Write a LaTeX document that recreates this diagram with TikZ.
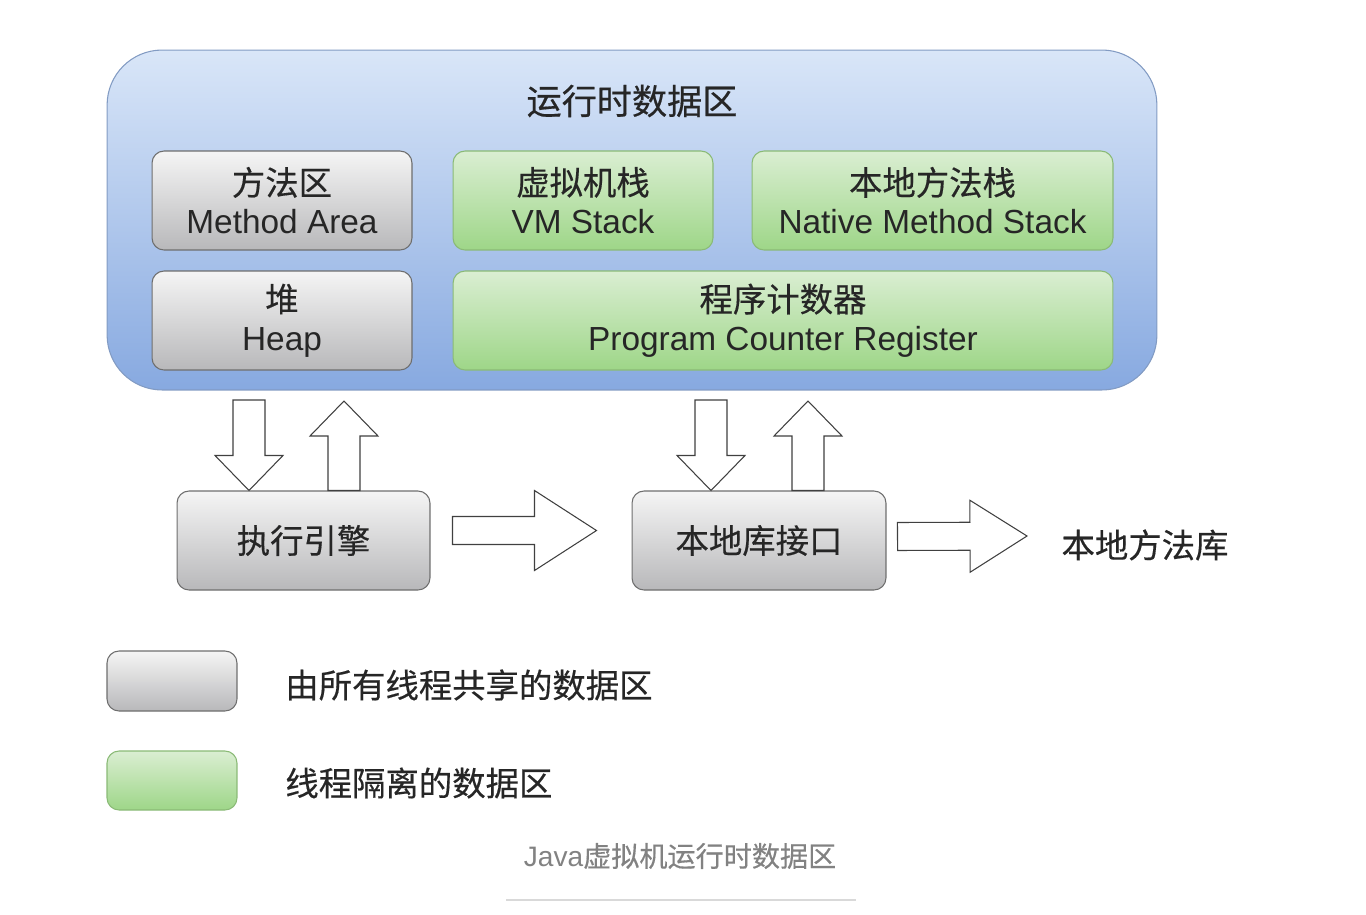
\documentclass[tikz,border=0pt]{standalone}
\usepackage{fontspec}
\usepackage{tikz}
\usetikzlibrary{calc}
\setmainfont{Liberation Sans}
\newfontfamily\cjk[FakeBold=0.4]{Noto Sans CJK SC}
\definecolor{bluetop}{RGB}{217, 230, 248}
\definecolor{bluebot}{RGB}{135, 169, 224}
\definecolor{blueline}{RGB}{130, 155, 195}
\definecolor{greytop}{RGB}{245, 245, 245}
\definecolor{greybot}{RGB}{184, 184, 186}
\definecolor{greyline}{RGB}{110, 110, 110}
\definecolor{greentop}{RGB}{218, 238, 210}
\definecolor{greenbot}{RGB}{158, 214, 136}
\definecolor{greenline}{RGB}{138, 186, 118}
\definecolor{capgrey}{RGB}{130, 130, 130}

\newcommand{\fatarrow}[5]{%
  \coordinate (fa) at ($(#2)!#5!(#1)$);
  \draw[fat] ($(#1)!#3!90:(#2)$) -- ($(fa)!#3!90:(#2)$) -- ($(fa)!#4!90:(#2)$) -- (#2)
    -- ($(fa)!#4!-90:(#2)$) -- ($(fa)!#3!-90:(#2)$) -- ($(#1)!#3!-90:(#2)$) -- cycle;}

\begin{document}
\begin{tikzpicture}[x=0.02cm,y=-0.02cm,
    txt/.style={font=\fontsize{19}{22}\selectfont, text=black!85},
    shared/.style={txt, draw=greyline, line width=0.6pt, rounded corners=0.24cm,
      top color=greytop, bottom color=greybot, align=center, inner sep=0pt, minimum height=1.98cm},
    private/.style={txt, draw=greenline, line width=0.6pt, rounded corners=0.24cm,
      top color=greentop, bottom color=greenbot, align=center, inner sep=0pt, minimum height=1.98cm},
    fat/.style={draw=black!75, fill=white, line width=0.6pt, line join=miter}]
  \useasboundingbox (0,0) rectangle (1366,914);

  \node[draw=blueline, line width=0.6pt, rounded corners=1.1cm, top color=bluetop, bottom color=bluebot,
    minimum width=21cm, minimum height=6.8cm] (rt) at (632,220) {};
  \node[txt, font=\fontsize{20}{24}\selectfont] (title) at (632,101) {\cjk 运行时数据区};

  \node[shared, minimum width=5.2cm] (ma) at (282,200.5) {{\cjk 方法区}\\Method Area};
  \node[private, minimum width=5.2cm] (vms) at (583,200.5) {{\cjk 虚拟机栈}\\VM Stack};
  \node[private, minimum width=7.22cm] (nms) at (932.5,200.5) {{\cjk 本地方法栈}\\Native Method Stack};
  \node[shared, minimum width=5.2cm] (heap) at (282,320.5) {{\cjk 堆}\\Heap};
  \node[private, minimum width=13.2cm] (pcr) at (783,320.5) {{\cjk 程序计数器}\\Program Counter Register};

  \node[shared, minimum width=5.06cm] (ee) at (303.5,540.5) {\cjk 执行引擎};
  \node[shared, minimum width=5.08cm] (nli) at (759,540.5) {\cjk 本地库接口};
  \node[txt] (nml) at (1145,545) {\cjk 本地方法库};

  \coordinate (d1) at (249,400);
  \coordinate (u1) at (344,401);
  \coordinate (d2) at (711,400);
  \coordinate (u2) at (808,401);
  \coordinate (h1s) at ($(ee.east)+(22,-10)$);
  \coordinate (h1e) at ($(nli.west)+(-35,-10)$);
  \coordinate (h2s) at ($(nli.east)+(11,-4)$);
  \coordinate (h2e) at (1027,536);

  \fatarrow{d1}{ee.north -| d1}{0.32cm}{0.68cm}{0.7cm}
  \fatarrow{ee.north -| u1}{u1}{0.32cm}{0.68cm}{0.7cm}
  \fatarrow{d2}{nli.north -| d2}{0.32cm}{0.68cm}{0.7cm}
  \fatarrow{nli.north -| u2}{u2}{0.32cm}{0.68cm}{0.7cm}
  \fatarrow{h1s}{h1e}{0.28cm}{0.8cm}{1.24cm}
  \fatarrow{h2s}{h2e}{0.28cm}{0.72cm}{1.14cm}

  \node[shared, minimum width=2.6cm, minimum height=1.2cm] (lg1) at (172,681) {};
  \node[txt, anchor=west, inner sep=0pt] (lg1t) at (285,685) {\cjk 由所有线程共享的数据区};
  \node[private, minimum width=2.6cm, minimum height=1.18cm] (lg2) at (172,780.5) {};
  \node[txt, anchor=west, inner sep=0pt] (lg2t) at (285,783) {\cjk 线程隔离的数据区};

  \node[font=\fontsize{16}{19}\selectfont, text=capgrey] (cap) at (680,856) {Java{\cjk 虚拟机运行时数据区}};
  \draw[black!15, line width=1pt] (506,900) -- (856,900);
\end{tikzpicture}
\end{document}
